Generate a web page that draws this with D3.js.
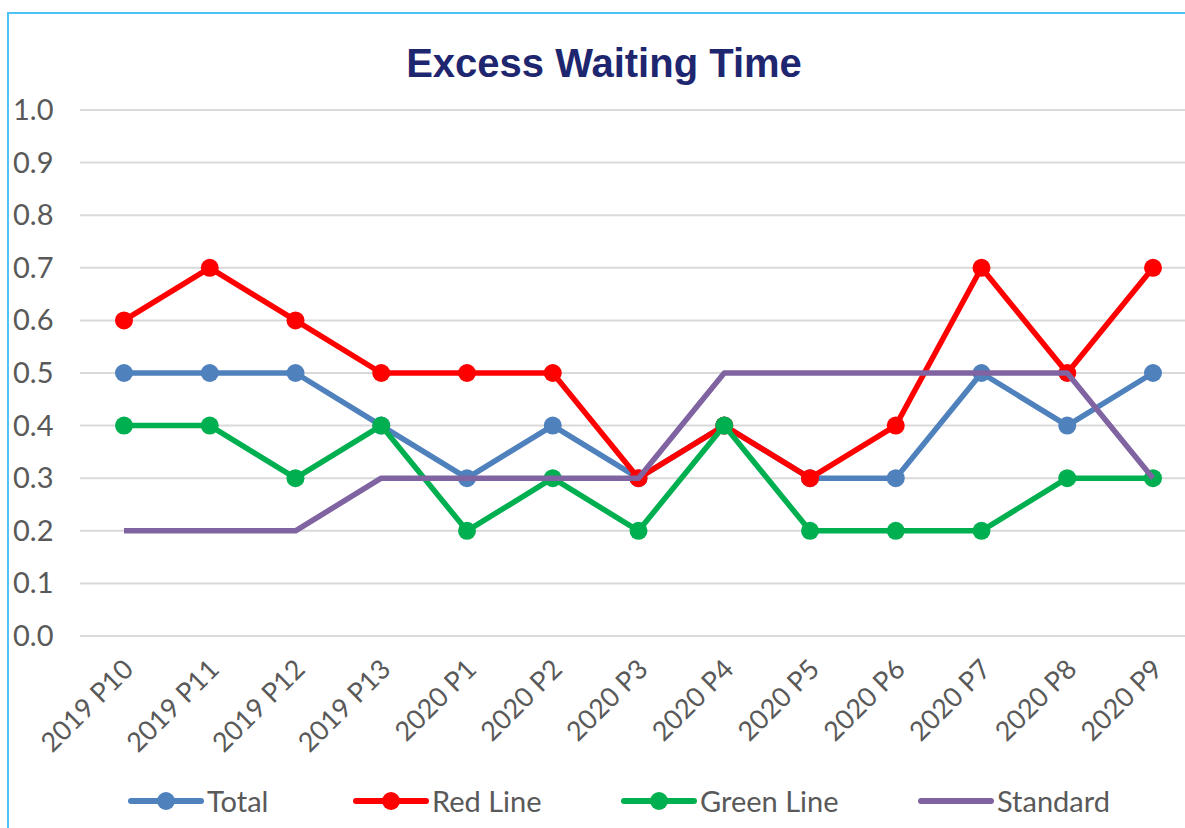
<!DOCTYPE html>
<html>
<head>
<meta charset="utf-8">
<script src="https://cdn.jsdelivr.net/npm/d3@7"></script>
<style>
body { margin: 0; background: #fff; }
svg { display: block; font-family: Lato, "Open Sans", sans-serif; }
</style>
</head>
<body>
<div id="chart"></div>
<script>
const periods = ["2019 P10","2019 P11","2019 P12","2019 P13","2020 P1","2020 P2","2020 P3","2020 P4","2020 P5","2020 P6","2020 P7","2020 P8","2020 P9"];
const total = [0.5,0.5,0.5,0.4,0.3,0.4,0.3,0.4,0.3,0.3,0.5,0.4,0.5];
const redLine = [0.6,0.7,0.6,0.5,0.5,0.5,0.3,0.4,0.3,0.4,0.7,0.5,0.7];
const greenLine = [0.4,0.4,0.3,0.4,0.2,0.3,0.2,0.4,0.2,0.2,0.2,0.3,0.3];
const standard = [0.2,0.2,0.2,0.3,0.3,0.3,0.3,0.5,0.5,0.5,0.5,0.5,0.3];
const yTicks = [0,0.1,0.2,0.3,0.4,0.5,0.6,0.7,0.8,0.9,1.0];

const width = 1185, height = 828;

const series = [
  {name: "Total", values: total, color: "#4F81BD", markers: true},
  {name: "Red Line", values: redLine, color: "#FF0000", markers: true},
  {name: "Green Line", values: greenLine, color: "#00B050", markers: true},
  {name: "Standard", values: standard, color: "#8064A2", markers: false}
];

const svg = d3.select("#chart").append("svg")
  .attr("width", width).attr("height", height);

// frame edges
svg.append("line").attr("x1", 8).attr("x2", 8).attr("y1", 12).attr("y2", height)
  .attr("stroke", "#4FC3F7").attr("stroke-width", 2);
svg.append("line").attr("x1", 8).attr("x2", width).attr("y1", 13).attr("y2", 13)
  .attr("stroke", "#4FC3F7").attr("stroke-width", 2);

svg.append("text")
  .attr("x", 604).attr("y", 77)
  .attr("text-anchor", "middle")
  .attr("font-family", "Liberation Sans, Arial, sans-serif")
  .attr("font-weight", "bold").attr("font-size", 40)
  .attr("fill", "#1F2670")
  .text("Excess Waiting Time");

const xScale = d3.scalePoint().domain(periods).range([124, 1153]);
const yScale = d3.scaleLinear().domain([0, 1]).range([636, 110]);

// gridlines
svg.append("g").selectAll("line").data(yTicks).join("line")
  .attr("x1", 80).attr("x2", width)
  .attr("y1", d => yScale(d)).attr("y2", d => yScale(d))
  .attr("stroke", "#d9d9d9").attr("stroke-width", 2);

// y labels
svg.append("g").selectAll("text").data(yTicks).join("text")
  .attr("x", 13).attr("y", d => yScale(d) + 10)
  .attr("font-size", 29).attr("fill", "#595959")
  .text(d => d3.format(".1f")(d));

// x labels
svg.append("g").selectAll("text").data(periods).join("text")
  .attr("transform", d => `translate(${xScale(d) + 11},${671}) rotate(-45)`)
  .attr("text-anchor", "end")
  .attr("font-size", 27).attr("fill", "#595959")
  .text(d => d);

const line = d3.line().x((d, i) => xScale(periods[i])).y(d => yScale(d));

series.forEach(s => {
  const g = svg.append("g");
  g.append("path").datum(s.values)
    .attr("d", line).attr("fill", "none")
    .attr("stroke", s.color).attr("stroke-width", 5.5)
    .attr("stroke-linejoin", "round");
  if (s.markers) {
    g.selectAll("circle").data(s.values).join("circle")
      .attr("cx", (d, i) => xScale(periods[i])).attr("cy", d => yScale(d))
      .attr("r", 9).attr("fill", s.color);
  }
});

// legend
const legendX = [131, 356, 624, 921];
const legend = svg.append("g").selectAll("g").data(series).join("g")
  .attr("transform", (d, i) => `translate(${legendX[i]},801)`);
legend.append("line").attr("x1", 0).attr("x2", 70)
  .attr("stroke", d => d.color).attr("stroke-width", 6)
  .attr("stroke-linecap", "round");
legend.filter(d => d.markers).append("circle")
  .attr("cx", 35).attr("r", 9).attr("fill", d => d.color);
legend.append("text").attr("x", 76).attr("y", 11)
  .attr("font-size", 29).attr("fill", "#595959")
  .text(d => d.name);
</script>
</body>
</html>
